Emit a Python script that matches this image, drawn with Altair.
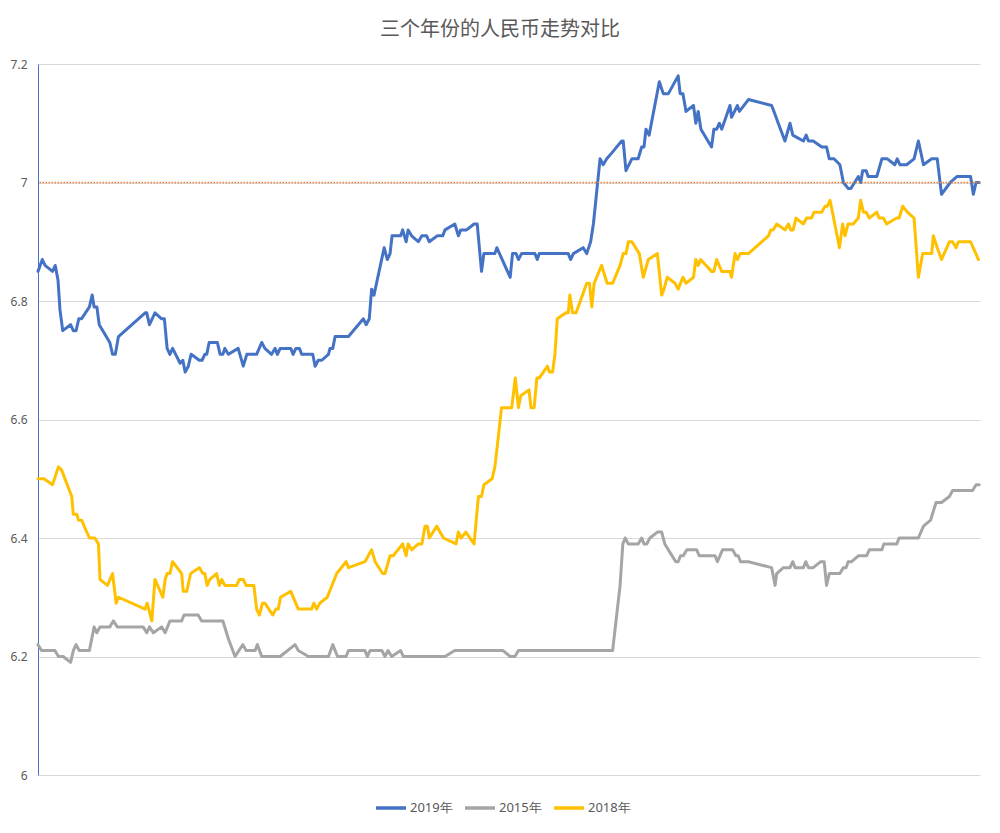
import altair as alt
import pandas as pd

TITLE = "三个年份的人民币走势对比"
SERIES = ["2019年", "2015年", "2018年"]
COLORS = ["#4472C4", "#A5A5A5", "#FFC000"]
Y_TICKS = [6.0, 6.2, 6.4, 6.6, 6.8, 7.0, 7.2]
REF_LEVEL = 7.0

# 交易日序号 and closing values
DAY_2019 = [0.0, 1.1, 1.8, 3.7, 4.4, 5.1, 5.6, 6.3, 8.3, 9.0, 9.7, 10.4, 11.1, 13.1, 13.8, 14.3, 15.0, 15.6,
            18.3, 19.0, 19.7, 20.5, 27.3, 27.7, 28.4, 29.8, 31.5, 32.2, 32.9, 33.6, 34.3, 36.2, 36.9, 37.5,
            38.3, 39.0, 41.1, 41.8, 42.5, 43.0, 43.6, 45.7, 46.4, 47.1, 47.6, 48.5, 51.0, 52.3, 53.2, 55.7,
            57.0, 57.8, 59.5, 60.4, 61.0, 61.7, 64.4, 65.0, 65.7, 66.6, 67.2, 70.0, 70.6, 71.4, 72.3, 74.0,
            74.4, 75.1, 75.7, 79.1, 82.9, 83.6, 84.4, 85.0, 85.6, 88.2, 89.0, 89.7, 90.2, 92.4, 92.9, 93.8,
            94.3, 95.2, 96.9, 97.8, 99.0, 99.7, 101.7, 103.1, 103.7, 106.2, 107.1, 107.7, 109.2, 111.1, 111.9,
            113.0, 113.6, 116.4, 116.9, 120.3, 120.9, 121.8, 122.4, 123.2, 126.6, 127.2, 127.7, 135.1, 135.7,
            136.4, 138.9, 139.8, 140.8, 141.5, 143.2, 144.0, 144.9, 146.2, 148.7, 149.1, 149.8, 151.3, 152.9,
            153.8, 154.4, 154.9, 155.7, 158.3, 159.3, 160.6, 163.1, 163.6, 164.3, 165.1, 167.0, 167.6, 168.2,
            168.9, 171.6, 172.2, 172.9, 173.6, 174.2, 176.3, 176.7, 178.2, 178.7, 181.0, 186.9, 187.5, 188.6,
            190.3, 191.6, 192.3, 195.0, 195.7, 196.3, 197.5, 199.7, 200.9, 201.6, 202.8, 204.3, 205.2, 206.4,
            207.1, 209.0, 209.6, 210.1, 211.0, 211.5, 213.7, 215.0, 216.4, 218.3, 218.9, 219.6, 221.3, 223.2,
            224.3, 225.6, 227.7, 229.1, 230.2, 232.4, 234.1, 237.6, 238.3, 239.0, 239.8]
VAL_2019 = [6.85, 6.87, 6.86, 6.85, 6.86, 6.835, 6.785, 6.75, 6.76, 6.75, 6.75, 6.77, 6.77, 6.79, 6.81, 6.79,
            6.79, 6.76, 6.73, 6.71, 6.71, 6.74, 6.78, 6.78, 6.76, 6.78, 6.77, 6.77, 6.72, 6.71, 6.72, 6.695,
            6.70, 6.68, 6.69, 6.71, 6.70, 6.70, 6.71, 6.71, 6.73, 6.73, 6.71, 6.71, 6.72, 6.71, 6.72, 6.69,
            6.71, 6.71, 6.73, 6.72, 6.71, 6.72, 6.71, 6.72, 6.72, 6.71, 6.72, 6.72, 6.71, 6.71, 6.69, 6.70,
            6.70, 6.71, 6.72, 6.72, 6.74, 6.74, 6.77, 6.76, 6.77, 6.82, 6.81, 6.89, 6.87, 6.88, 6.91, 6.91,
            6.92, 6.90, 6.92, 6.91, 6.90, 6.91, 6.91, 6.90, 6.91, 6.91, 6.92, 6.93, 6.91, 6.92, 6.92, 6.93,
            6.93, 6.85, 6.88, 6.88, 6.89, 6.84, 6.88, 6.88, 6.87, 6.88, 6.88, 6.87, 6.88, 6.88, 6.87, 6.88,
            6.89, 6.88, 6.90, 6.93, 7.04, 7.03, 7.04, 7.05, 7.07, 7.07, 7.02, 7.04, 7.04, 7.06, 7.06, 7.09,
            7.08, 7.17, 7.15, 7.15, 7.18, 7.15, 7.15, 7.12, 7.13, 7.10, 7.12, 7.09, 7.06, 7.09, 7.09, 7.10,
            7.09, 7.13, 7.11, 7.13, 7.12, 7.14, 7.13, 7.12, 7.10, 7.07, 7.10, 7.08, 7.07, 7.08, 7.07, 7.07,
            7.06, 7.06, 7.04, 7.04, 7.03, 7.00, 6.99, 6.99, 7.01, 7.00, 7.02, 7.02, 7.01, 7.01, 7.04, 7.04,
            7.03, 7.04, 7.03, 7.03, 7.04, 7.07, 7.03, 7.04, 7.04, 6.98, 7.00, 7.01, 7.01, 6.98, 7.00, 7.00]

DAY_2015 = [0.0, 0.9, 4.3, 5.2, 6.4, 8.3, 9.0, 9.7, 10.5, 13.1, 14.3, 15.0, 15.8, 18.3, 19.2, 20.2, 26.8, 27.7,
            28.4, 29.4, 31.5, 32.4, 33.6, 36.6, 37.2, 40.8, 41.7, 47.1, 48.5, 50.2, 52.2, 53.0, 55.3, 55.9,
            57.0, 61.7, 65.5, 66.3, 68.9, 74.0, 75.1, 76.3, 78.5, 79.1, 83.3, 83.9, 84.6, 87.6, 88.4, 89.2,
            90.1, 92.4, 93.1, 103.7, 106.2, 118.5, 120.3, 121.5, 122.4, 146.4, 148.3, 149.0, 149.6, 150.4,
            152.9, 153.8, 154.4, 155.1, 155.9, 157.8, 158.9, 159.7, 160.6, 162.5, 163.1, 163.7, 164.4, 165.3,
            167.8, 168.5, 172.5, 173.1, 174.4, 177.0, 177.8, 178.4, 179.0, 181.0, 186.9, 187.8, 188.2, 189.9,
            191.6, 192.3, 192.9, 195.0, 195.6, 196.3, 197.5, 199.4, 200.3, 200.9, 201.6, 204.3, 205.2, 205.9,
            206.4, 207.3, 209.0, 211.1, 211.8, 215.0, 215.5, 218.8, 219.4, 224.3, 225.6, 227.4, 228.8, 230.2,
            232.2, 233.0, 238.1, 239.0, 239.8]
VAL_2015 = [6.22, 6.21, 6.21, 6.20, 6.20, 6.19, 6.21, 6.22, 6.21, 6.21, 6.25, 6.24, 6.25, 6.25, 6.26, 6.25,
            6.25, 6.24, 6.25, 6.24, 6.25, 6.24, 6.26, 6.26, 6.27, 6.27, 6.26, 6.26, 6.23, 6.20, 6.22, 6.21,
            6.21, 6.22, 6.20, 6.20, 6.22, 6.21, 6.20, 6.20, 6.22, 6.20, 6.20, 6.21, 6.21, 6.20, 6.21, 6.21,
            6.20, 6.21, 6.20, 6.21, 6.20, 6.20, 6.21, 6.21, 6.20, 6.20, 6.21, 6.21, 6.32, 6.39, 6.40, 6.39,
            6.39, 6.40, 6.39, 6.39, 6.40, 6.41, 6.41, 6.39, 6.38, 6.36, 6.36, 6.37, 6.37, 6.38, 6.38, 6.37,
            6.37, 6.36, 6.38, 6.38, 6.37, 6.37, 6.36, 6.36, 6.35, 6.32, 6.34, 6.35, 6.35, 6.36, 6.35, 6.35,
            6.36, 6.35, 6.35, 6.36, 6.36, 6.32, 6.34, 6.34, 6.35, 6.35, 6.36, 6.36, 6.37, 6.37, 6.38, 6.38,
            6.39, 6.39, 6.40, 6.40, 6.42, 6.43, 6.46, 6.46, 6.47, 6.48, 6.48, 6.49, 6.49]

DAY_2018 = [0.0, 1.5, 3.7, 5.2, 6.0, 8.6, 9.0, 9.9, 10.3, 11.1, 13.1, 14.5, 15.4, 15.8, 17.7, 19.0, 19.9, 20.5,
            27.3, 27.8, 29.0, 29.8, 31.8, 32.4, 32.9, 33.6, 34.3, 36.6, 37.0, 37.9, 38.9, 41.1, 42.0, 42.5,
            43.1, 43.8, 45.5, 46.2, 46.8, 47.6, 50.6, 51.3, 52.3, 53.0, 55.0, 55.7, 56.4, 57.2, 57.8, 59.8,
            60.6, 61.2, 61.8, 64.4, 66.3, 69.7, 70.3, 71.0, 71.8, 73.7, 76.1, 78.5, 79.1, 83.3, 85.0, 85.9,
            87.8, 88.4, 89.7, 90.5, 92.9, 93.8, 94.3, 95.2, 96.9, 97.8, 98.6, 99.2, 99.7, 101.6, 103.3, 106.5,
            107.1, 107.8, 109.0, 111.1, 112.2, 113.0, 113.6, 115.7, 116.4, 117.1, 118.1, 120.7, 121.6, 122.4,
            123.0, 125.1, 125.6, 126.4, 127.1, 127.7, 129.8, 130.3, 131.1, 131.7, 132.3, 134.5, 135.1, 135.5,
            136.2, 137.1, 139.8, 140.5, 141.1, 141.7, 143.6, 145.0, 146.4, 148.3, 149.1, 149.8, 150.4, 151.3,
            153.2, 154.2, 155.5, 157.8, 158.9, 159.5, 160.3, 162.3, 163.1, 164.3, 165.1, 167.0, 167.6, 168.2,
            168.8, 171.6, 172.2, 172.9, 174.2, 176.3, 176.7, 177.6, 178.2, 178.9, 181.0, 186.1, 186.7, 187.3,
            188.2, 190.3, 191.2, 191.8, 192.4, 193.1, 195.0, 195.8, 197.1, 197.7, 199.7, 200.5, 201.1, 201.8,
            204.2, 205.0, 205.6, 206.4, 207.7, 209.0, 209.6, 210.3, 211.0, 211.8, 213.7, 214.3, 215.4, 216.2,
            218.8, 219.4, 220.3, 221.5, 223.2, 224.3, 225.4, 227.7, 228.1, 229.1, 230.2, 232.2, 233.0, 233.9,
            234.5, 237.6, 239.6]
VAL_2018 = [6.50, 6.50, 6.49, 6.52, 6.515, 6.47, 6.44, 6.44, 6.43, 6.43, 6.40, 6.40, 6.39, 6.33, 6.32, 6.34,
            6.29, 6.30, 6.28, 6.29, 6.26, 6.33, 6.30, 6.33, 6.34, 6.34, 6.36, 6.34, 6.31, 6.31, 6.34, 6.35,
            6.34, 6.34, 6.32, 6.33, 6.34, 6.32, 6.33, 6.32, 6.32, 6.33, 6.33, 6.32, 6.32, 6.28, 6.27, 6.29,
            6.29, 6.27, 6.28, 6.28, 6.30, 6.31, 6.28, 6.28, 6.29, 6.28, 6.29, 6.30, 6.34, 6.36, 6.35, 6.36,
            6.38, 6.36, 6.34, 6.34, 6.37, 6.37, 6.39, 6.37, 6.39, 6.38, 6.39, 6.39, 6.42, 6.42, 6.40, 6.42,
            6.40, 6.39, 6.41, 6.40, 6.41, 6.39, 6.47, 6.47, 6.49, 6.50, 6.52, 6.56, 6.62, 6.62, 6.67, 6.62,
            6.64, 6.65, 6.62, 6.62, 6.67, 6.67, 6.69, 6.68, 6.68, 6.71, 6.77, 6.78, 6.78, 6.81, 6.78, 6.78,
            6.83, 6.83, 6.79, 6.83, 6.86, 6.83, 6.83, 6.86, 6.88, 6.88, 6.90, 6.90, 6.88, 6.84, 6.87, 6.88,
            6.81, 6.82, 6.84, 6.83, 6.82, 6.84, 6.83, 6.84, 6.87, 6.86, 6.87, 6.85, 6.85, 6.87, 6.85, 6.85,
            6.84, 6.88, 6.87, 6.88, 6.88, 6.91, 6.92, 6.92, 6.93, 6.92, 6.93, 6.92, 6.92, 6.94, 6.93, 6.94,
            6.94, 6.95, 6.95, 6.96, 6.96, 6.97, 6.89, 6.93, 6.91, 6.93, 6.93, 6.94, 6.97, 6.95, 6.95, 6.94,
            6.95, 6.94, 6.94, 6.93, 6.94, 6.94, 6.96, 6.95, 6.94, 6.84, 6.88, 6.88, 6.91, 6.89, 6.87, 6.90,
            6.90, 6.89, 6.90, 6.90, 6.87]

frames = []
for name, days, vals in [("2019年", DAY_2019, VAL_2019),
                         ("2015年", DAY_2015, VAL_2015),
                         ("2018年", DAY_2018, VAL_2018)]:
    frames.append(pd.DataFrame({"day": days, "rate": vals, "series": name,
                                "seq": list(range(len(days)))}))
df = pd.concat(frames, ignore_index=True)

FONT = "Noto Sans CJK SC"
TEXT_GRAY = "#595959"

x_scale = alt.Scale(domain=[0, 240], nice=False, zero=False)
y_scale = alt.Scale(domain=[6.0, 7.2], nice=False, zero=False)

lines = alt.Chart(df).mark_line(strokeWidth=3, strokeJoin="round", strokeCap="round").encode(
    x=alt.X("day:Q", scale=x_scale, axis=None),
    y=alt.Y("rate:Q", scale=y_scale,
            axis=alt.Axis(values=Y_TICKS, title=None, ticks=False, labelPadding=11,
                          labelExpr="format(datum.value, '~g')",
                          domainColor="#4472C4", domainWidth=1,
                          gridColor="#D9D9D9", gridWidth=1,
                          labelColor=TEXT_GRAY, labelFontSize=12, labelFont="Noto Sans")),
    color=alt.Color("series:N", scale=alt.Scale(domain=SERIES, range=COLORS),
                    legend=alt.Legend(title=None, orient="none", direction="horizontal",
                                      legendX=336, legendY=727,
                                      symbolType="stroke", symbolSize=900, symbolStrokeWidth=3.5,
                                      labelFontSize=13, labelColor=TEXT_GRAY, labelFont="Noto Sans",
                                      labelOffset=2, columnPadding=5)),
    order=alt.Order("seq:Q"),
)

ref = alt.Chart(pd.DataFrame({"level": [REF_LEVEL]})).mark_rule(
    color="#ED7D31", strokeWidth=1.5, strokeDash=[1.5, 1.5]
).encode(y=alt.Y("level:Q", scale=y_scale))

chart = alt.layer(lines, ref).properties(
    width=942, height=711,
    title=alt.TitleParams(TITLE, fontSize=20, font=FONT, color=TEXT_GRAY, fontWeight="normal",
                          offset=18, dx=-9),
    autosize=alt.AutoSizeParams(type="none"),
    padding={"left": 30, "top": 56, "right": 12, "bottom": 50},
).configure_view(stroke=None)

chart.save("out.html", embed_options={"renderer": "svg", "actions": False})
